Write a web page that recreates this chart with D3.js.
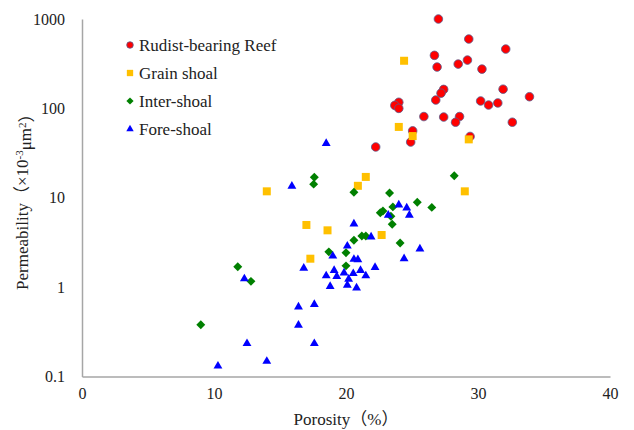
<!DOCTYPE html>
<meta charset="utf-8">
<style>
body { margin: 0; background: #fff; }
text { font-family: "Times New Roman", "Liberation Serif", "Noto Sans CJK SC", serif; fill: #222; }
.axis path { stroke: #a6a6a6; stroke-width: 1.5px; }
.axis text { font-size: 16px; }
</style>
<svg width="634" height="430"></svg>
<script src="https://d3js.org/d3.v7.min.js"></script>
<script>
var seriesNames = ["Rudist-bearing Reef", "Grain shoal", "Inter-shoal", "Fore-shoal"];
var xTicks = [0, 10, 20, 30, 40];
var yTicks = [0.1, 1, 10, 100, 1000];

// [porosity %, permeability 10^-3 um^2]
var reef = [[27.0, 1000], [29.3, 597], [32.1, 461], [26.7, 392], [26.9, 290], [28.5, 313],
  [29.2, 347], [30.3, 275], [27.4, 163], [27.2, 148], [26.8, 124], [31.9, 164], [33.9, 135],
  [30.2, 121], [30.8, 109], [31.5, 115], [24.0, 117], [23.7, 108], [24.0, 100], [25.9, 81],
  [27.4, 80], [28.6, 81], [28.3, 70], [32.6, 70], [25.05, 56], [24.9, 42], [29.4, 48.5], [22.25, 37]];
var grain = [[24.4, 341], [24.0, 62], [25.05, 49], [29.3, 45], [29.0, 11.8], [21.5, 17.1],
  [20.9, 13.6], [14.0, 11.8], [17.0, 4.96], [18.6, 4.32], [22.7, 3.83], [17.3, 2.08]];
var inter = [[28.2, 17.6], [23.3, 11.3], [17.6, 17.0], [17.55, 14.2], [20.6, 11.5], [23.55, 7.9],
  [25.4, 8.9], [26.5, 7.8], [22.8, 7.1], [22.6, 6.8], [23.4, 6.2], [23.5, 5.05], [20.6, 3.34],
  [21.2, 3.73], [21.5, 3.73], [24.1, 3.12], [18.7, 2.48], [20.0, 2.43], [20.0, 1.73],
  [11.8, 1.69], [12.8, 1.16], [9.0, 0.38]];
var fore = [[18.5, 40.5], [15.9, 13.5], [24.0, 8.3], [24.6, 7.7], [23.2, 6.4], [24.8, 6.4],
  [20.6, 5.1], [21.9, 3.64], [25.6, 2.68], [20.1, 2.88], [19.0, 2.23], [20.6, 2.05], [20.9, 2.03],
  [24.4, 2.08], [16.8, 1.63], [22.2, 1.66], [19.1, 1.54], [19.85, 1.44], [20.55, 1.42],
  [21.1, 1.54], [18.5, 1.34], [19.3, 1.32], [20.2, 1.23], [21.5, 1.34], [18.8, 1.02],
  [20.1, 1.05], [20.8, 0.98], [12.3, 1.24], [16.4, 0.6], [17.6, 0.64], [16.4, 0.376],
  [12.5, 0.234], [17.6, 0.234], [14.0, 0.148], [10.3, 0.131]];

var svg = d3.select("svg"),
    margin = {top: 19, left: 82},
    width = 528,
    height = 357.5,
    g = svg.append("g").attr("transform", "translate(" + margin.left + "," + margin.top + ")");

var x = d3.scaleLinear().domain([0, 40]).range([0, width]);
var y = d3.scaleLog().domain([0.1, 1000]).range([height, 0]);

g.append("g")
    .attr("class", "axis")
    .attr("transform", "translate(0," + height + ")")
    .call(d3.axisBottom(x).tickValues(xTicks).tickSize(0).tickPadding(11).tickFormat(d3.format("d")));

g.append("g")
    .attr("class", "axis")
    .call(d3.axisLeft(y).tickValues(yTicks).tickSize(0).tickPadding(17).tickFormat(function(d) { return String(d); }));

g.selectAll(".axis .domain").attr("stroke", "#a6a6a6");

var styles = [
  {data: reef, type: d3.symbolCircle, size: 58, fill: "#ff0000", stroke: "#5a5a8c", sw: 0.8, lsize: 34, rot: 0},
  {data: grain, type: d3.symbolSquare, size: 64, fill: "#ffc000", stroke: "none", sw: 0, lsize: 40, rot: 0},
  {data: inter, type: d3.symbolSquare, size: 40, fill: "#008000", stroke: "none", sw: 0, lsize: 26, rot: 45},
  {data: fore, type: d3.symbolTriangle, size: 34, fill: "#0000ff", stroke: "none", sw: 0, lsize: 24, rot: 0}
];

// series order as in the spreadsheet: later series sit on top
styles.forEach(function(s) {
  g.append("g").selectAll("path")
    .data(s.data)
    .enter().append("path")
      .attr("d", d3.symbol().type(s.type).size(s.size))
      .attr("transform", function(d) { return "translate(" + x(d[0]) + "," + y(d[1]) + ") rotate(" + s.rot + ")"; })
      .attr("fill", s.fill)
      .attr("stroke", s.stroke)
      .attr("stroke-width", s.sw);
});

// legend
var legend = svg.append("g").attr("transform", "translate(130,45)");
seriesNames.forEach(function(name, i) {
  var s = styles[i];
  var row = legend.append("g").attr("transform", "translate(0," + (i * 28) + ")");
  row.append("path")
    .attr("d", d3.symbol().type(s.type).size(s.lsize))
    .attr("transform", "rotate(" + s.rot + ")")
    .attr("fill", s.fill)
    .attr("stroke", s.stroke)
    .attr("stroke-width", s.sw);
  row.append("text")
    .attr("x", 9)
    .attr("dy", "0.35em")
    .style("font-size", "17px")
    .text(name);
});

// axis titles
svg.append("text")
    .attr("x", margin.left + width / 2)
    .attr("y", 425)
    .attr("text-anchor", "middle")
    .style("font-size", "17px")
    .text("Porosity（%）");

var yt = svg.append("text")
    .attr("transform", "translate(28," + (margin.top + height / 2) + ") rotate(-90)")
    .attr("text-anchor", "middle")
    .style("font-size", "17px");
yt.append("tspan").text("Permeability（×10");
yt.append("tspan").attr("dy", "-0.45em").style("font-size", "11px").text("-3");
yt.append("tspan").attr("dy", "0.45em").text("μm");
yt.append("tspan").attr("dy", "-0.45em").style("font-size", "11px").text("2");
yt.append("tspan").attr("dy", "0.45em").text("）");
</script>
